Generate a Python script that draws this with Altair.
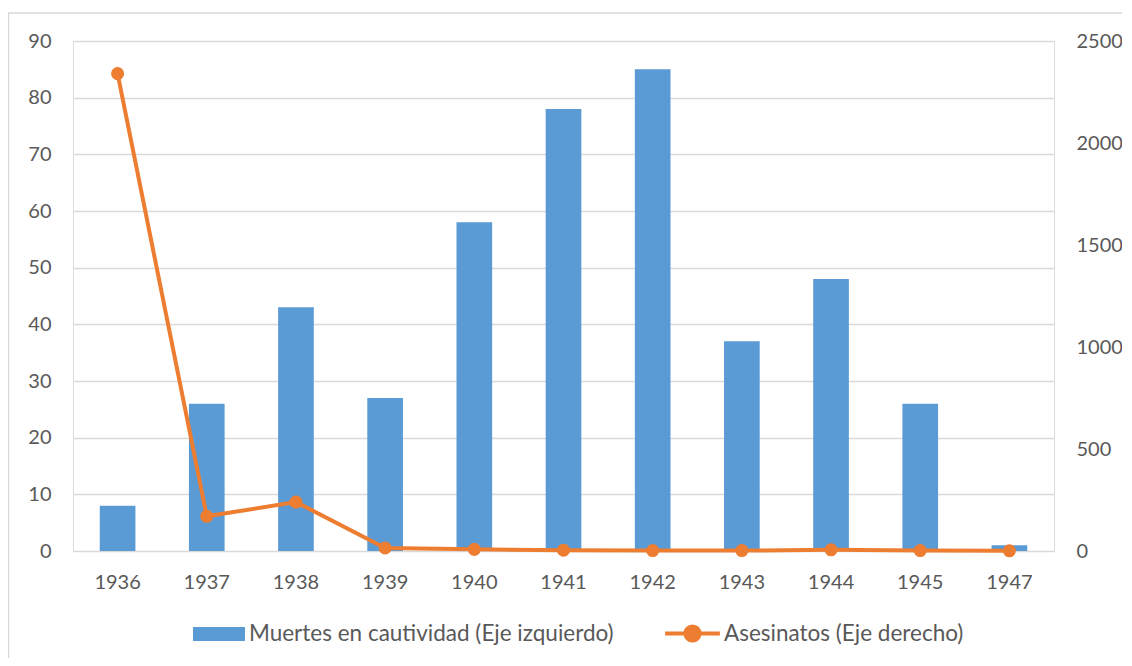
import altair as alt
import pandas as pd

years = ["1936", "1937", "1938", "1939", "1940", "1941", "1942", "1943", "1944", "1945", "1947"]
muertes = [8, 26, 43, 27, 58, 78, 85, 37, 48, 26, 1]
asesinatos = [2340, 170, 240, 15, 8, 4, 2, 2, 6, 2, 1]
left_ticks = [0, 10, 20, 30, 40, 50, 60, 70, 80, 90]
right_ticks = [0, 500, 1000, 1500, 2000, 2500]
name_bar = "Muertes en cautividad (Eje izquierdo)"
name_line = "Asesinatos (Eje derecho)"

df = pd.DataFrame({
    "year": years,
    "muertes": muertes,
    "asesinatos": asesinatos,
    "s1": name_bar,
    "s2": name_line,
})

FONT = "Lato"
TXT = "#595959"
BLUE = "#5b9bd5"
ORANGE = "#ed7d31"

xenc = alt.X("year:N", sort=years,
             scale=alt.Scale(paddingInner=0.6, paddingOuter=0.3),
             axis=alt.Axis(title=None, labelAngle=0, ticks=False, domain=False,
                           labelPadding=21, labelFontSize=20, labelColor=TXT, labelFont=FONT))

base = alt.Chart(df)

bars = base.mark_bar().encode(
    x=xenc,
    y=alt.Y("muertes:Q", scale=alt.Scale(domain=[0, 90], nice=False),
            axis=alt.Axis(title=None, values=left_ticks, ticks=False, domain=False,
                          grid=True, gridColor="#d9d9d9", gridWidth=1.3,
                          labelPadding=22, labelFontSize=20, labelColor=TXT, labelFont=FONT)),
    color=alt.Color("s1:N", scale=alt.Scale(domain=[name_bar], range=[BLUE]),
                    legend=alt.Legend(title=None, orient="none", legendX=120, legendY=567,
                                      symbolType="M-1,-0.27H1V0.27H-1Z", symbolSize=2704,
                                      symbolStrokeWidth=0, labelFontSize=22.5, labelColor=TXT,
                                      labelFont=FONT, labelOffset=4, padding=0, labelLimit=0)),
)

yright = alt.Y("asesinatos:Q", scale=alt.Scale(domain=[0, 2500], nice=False),
               axis=alt.Axis(title=None, orient="right", values=right_ticks, ticks=False,
                             domain=False, grid=False, labelPadding=22, labelFontSize=20,
                             labelColor=TXT, labelFont=FONT, format="d"))

line = base.mark_line(strokeWidth=4).encode(
    x=xenc,
    y=yright,
    stroke=alt.Stroke("s2:N", scale=alt.Scale(domain=[name_line], range=[ORANGE]),
                      legend=alt.Legend(title=None, orient="none", legendX=590, legendY=563,
                                        symbolType="M-1,0H1M0.26,0A0.26,0.26,0,1,1,-0.26,0A0.26,0.26,0,1,1,0.26,0",
                                        symbolSize=3000, symbolStrokeWidth=4,
                                        symbolFillColor=ORANGE, labelFontSize=22.5,
                                        labelColor=TXT, labelFont=FONT, labelOffset=2, padding=0,
                                        labelLimit=0)),
)

points = base.mark_point(filled=True, size=170, color=ORANGE, opacity=1).encode(
    x=xenc,
    y=yright,
)

frame = alt.Chart(alt.Data(values=[{}])).mark_rect(fill=None, stroke="#d9d9d9", strokeWidth=1.5).encode(
    x=alt.value(-64.5), x2=alt.value(1200), y=alt.value(-28), y2=alt.value(700)
)

right_layer = alt.layer(line, points)

chart = alt.layer(frame, bars, right_layer).resolve_scale(
    y="independent", color="independent", stroke="independent"
).properties(
    width=981, height=510,
    padding={"left": 65, "top": 33, "right": 68, "bottom": 107},
    autosize=alt.AutoSizeParams(type="none"),
).configure_view(stroke=None).configure(font=FONT)

chart.save("out.html", embed_options={"renderer": "svg", "actions": False})
